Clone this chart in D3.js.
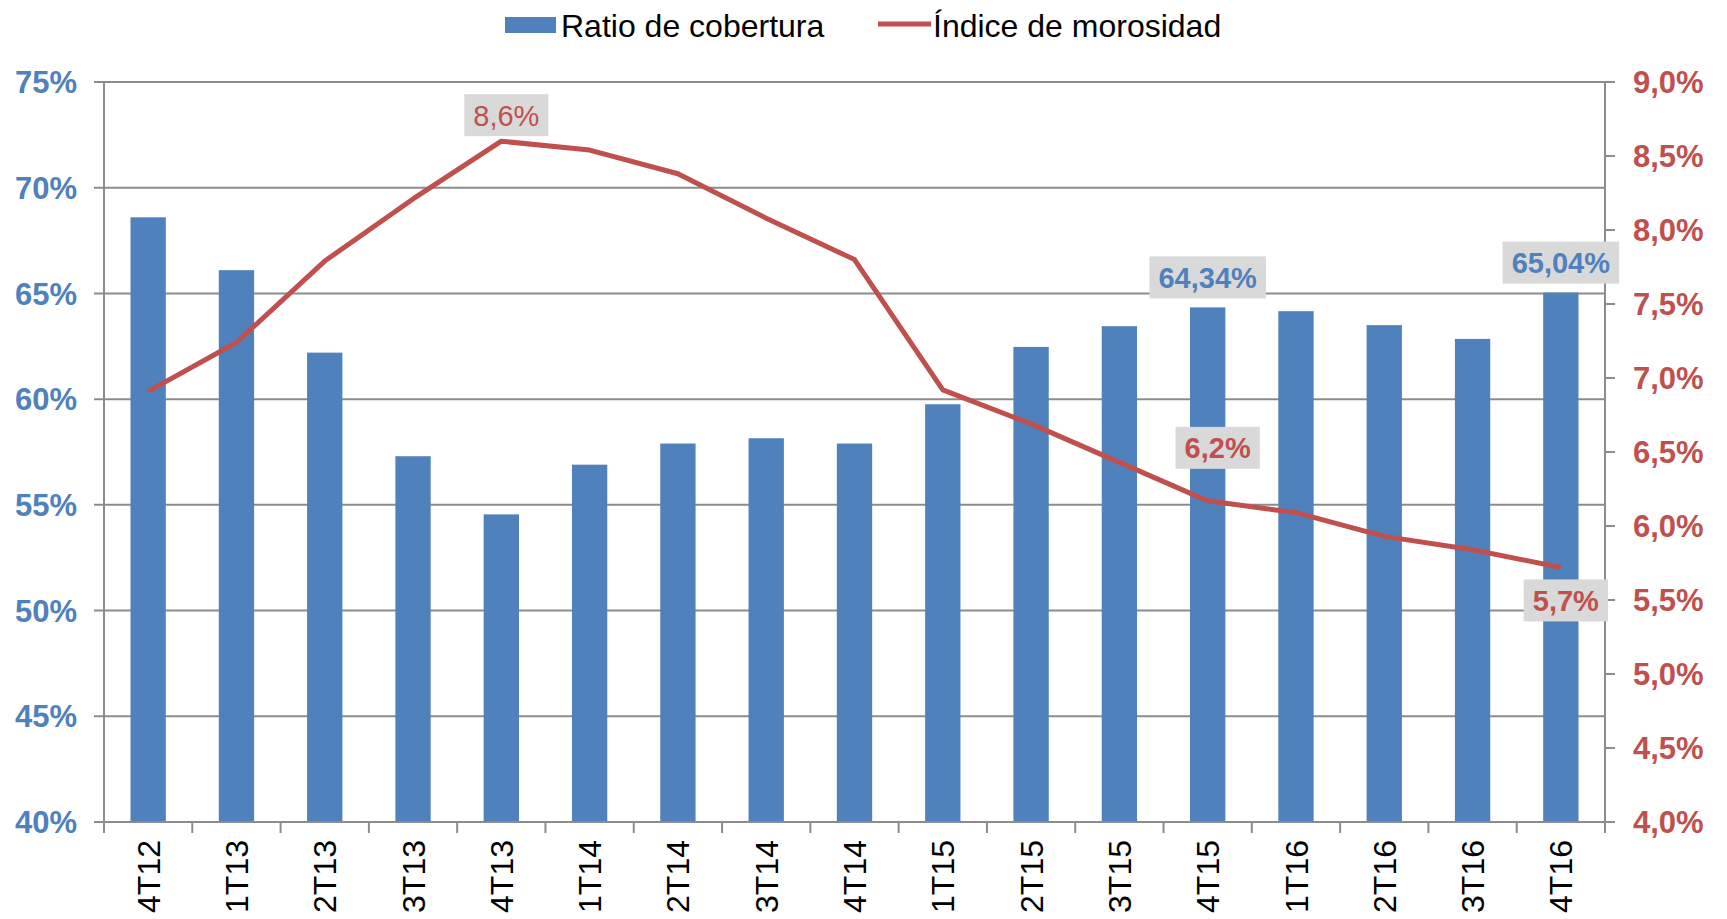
<!DOCTYPE html>
<html><head><meta charset="utf-8">
<script src="https://cdn.jsdelivr.net/npm/d3@7"></script>
<style>
html,body{margin:0;padding:0;background:#fff;}
svg{display:block;font-family:"Liberation Sans",Arial,sans-serif;}
</style></head>
<body>
<svg id="chart" width="1727" height="919"></svg>
<script>
const categories = ["4T12","1T13","2T13","3T13","4T13","1T14","2T14","3T14","4T14","1T15","2T15","3T15","4T15","1T16","2T16","3T16","4T16"];
const coverage = [68.6,66.1,62.2,57.3,54.55,56.9,57.9,58.15,57.9,59.76,62.47,63.45,64.34,64.16,63.5,62.85,65.04];
const npl = [6.91,7.24,7.79,8.21,8.6,8.54,8.38,8.08,7.8,6.92,6.69,6.43,6.17,6.09,5.93,5.84,5.72];
const leftTicks = [40,45,50,55,60,65,70,75];
const rightTicks = [4.0,4.5,5.0,5.5,6.0,6.5,7.0,7.5,8.0,8.5,9.0];
const barLabels = [{i:12,text:"64,34%"},{i:16,text:"65,04%"}];
const lineLabels = [{i:4,text:"8,6%",bold:false,dx:5,dy:-26},{i:12,text:"6,2%",bold:true,dx:10,dy:-53},{i:16,text:"5,7%",bold:true,dx:5,dy:33}];
const legendItems = ["Ratio de cobertura","Índice de morosidad"];

const BLUE="#4F81BD", RED="#C0504D", GRID="#8C8C8C", LABELBG="#D9D9D9";
const svg = d3.select("#chart");
const L=104, R=1605, T=82, B=822;

const x = d3.scaleBand().domain(categories).range([L,R]).paddingInner(0.6).paddingOuter(0.3);
const yL = d3.scaleLinear().domain([40,75]).range([B,T]);
const yR = d3.scaleLinear().domain([4,9]).range([B,T]);
const cx = c => x(c) + x.bandwidth()/2;

// gridlines + left ticks
svg.append("g").selectAll("line").data(leftTicks).join("line")
  .attr("x1",L-10).attr("x2",R).attr("y1",d=>yL(d)).attr("y2",d=>yL(d))
  .attr("stroke",GRID).attr("stroke-width",2);
// left labels
svg.append("g").selectAll("text").data(leftTicks).join("text")
  .attr("x",77).attr("y",d=>yL(d)).attr("dy","0.36em").attr("text-anchor","end")
  .attr("font-size",31).attr("font-weight","bold").attr("fill",BLUE).text(d=>d+"%");
// right ticks
svg.append("g").selectAll("line").data(rightTicks).join("line")
  .attr("x1",R).attr("x2",R+10).attr("y1",d=>yR(d)).attr("y2",d=>yR(d))
  .attr("stroke",GRID).attr("stroke-width",2);
svg.append("g").selectAll("text").data(rightTicks).join("text")
  .attr("x",1633).attr("y",d=>yR(d)).attr("dy","0.36em").attr("text-anchor","start")
  .attr("font-size",31).attr("font-weight","bold").attr("fill",RED)
  .text(d=>d3.format(".1f")(d).replace(".",",")+"%");
// axis lines
svg.append("line").attr("x1",L).attr("x2",L).attr("y1",T).attr("y2",B).attr("stroke",GRID).attr("stroke-width",2);
svg.append("line").attr("x1",R).attr("x2",R).attr("y1",T).attr("y2",B).attr("stroke",GRID).attr("stroke-width",2);

// bars
svg.append("g").selectAll("rect").data(categories).join("rect")
  .attr("x",d=>x(d)).attr("width",x.bandwidth())
  .attr("y",(d,i)=>yL(coverage[i])).attr("height",(d,i)=>yL(40)-yL(coverage[i]))
  .attr("fill",BLUE);

// x axis
svg.append("line").attr("x1",L).attr("x2",R).attr("y1",B).attr("y2",B).attr("stroke",GRID).attr("stroke-width",2);
const bounds = categories.map(c=>cx(c)-x.step()/2).concat([cx(categories[categories.length-1])+x.step()/2]);
svg.append("g").selectAll("line").data(bounds).join("line")
  .attr("x1",d=>d).attr("x2",d=>d).attr("y1",B).attr("y2",B+11)
  .attr("stroke",GRID).attr("stroke-width",2);
svg.append("g").selectAll("text").data(categories).join("text")
  .attr("transform",d=>`translate(${cx(d)},840) rotate(-90)`)
  .attr("text-anchor","end").attr("dy","0.36em")
  .attr("font-size",32).attr("fill","#000").text(d=>d);

// line
const line = d3.line().x((d,i)=>cx(categories[i])).y(d=>yR(d));
svg.append("path").datum(npl).attr("d",line).attr("fill","none")
  .attr("stroke",RED).attr("stroke-width",5).attr("stroke-linejoin","round");

// labels
function boxLabel(px,py,text,color,bold){
  const g = svg.append("g");
  const t = g.append("text").attr("x",px).attr("y",py).attr("dy","0.36em").attr("text-anchor","middle")
    .attr("font-size",29).attr("font-weight",bold?"bold":"normal").attr("fill",color).text(text);
  const bb = t.node().getBBox();
  g.insert("rect","text").attr("x",px-bb.width/2-9).attr("y",py-21).attr("width",bb.width+18).attr("height",42).attr("fill",LABELBG);
}
barLabels.forEach(l=>{
  boxLabel(cx(categories[l.i]), yL(coverage[l.i])-30, l.text, BLUE, true);
});
lineLabels.forEach(l=>{
  boxLabel(cx(categories[l.i])+l.dx, yR(npl[l.i])+l.dy, l.text, RED, l.bold);
});

// legend
svg.append("rect").attr("x",505).attr("y",17).attr("width",51).attr("height",16).attr("fill",BLUE);
svg.append("text").attr("x",561).attr("y",25).attr("dy","0.36em").attr("font-size",32).attr("fill","#000").text(legendItems[0]);
svg.append("line").attr("x1",878).attr("x2",931).attr("y1",24).attr("y2",24).attr("stroke",RED).attr("stroke-width",5);
svg.append("text").attr("x",933).attr("y",25).attr("dy","0.36em").attr("font-size",32).attr("fill","#000").text(legendItems[1]);
</script>
</body></html>
